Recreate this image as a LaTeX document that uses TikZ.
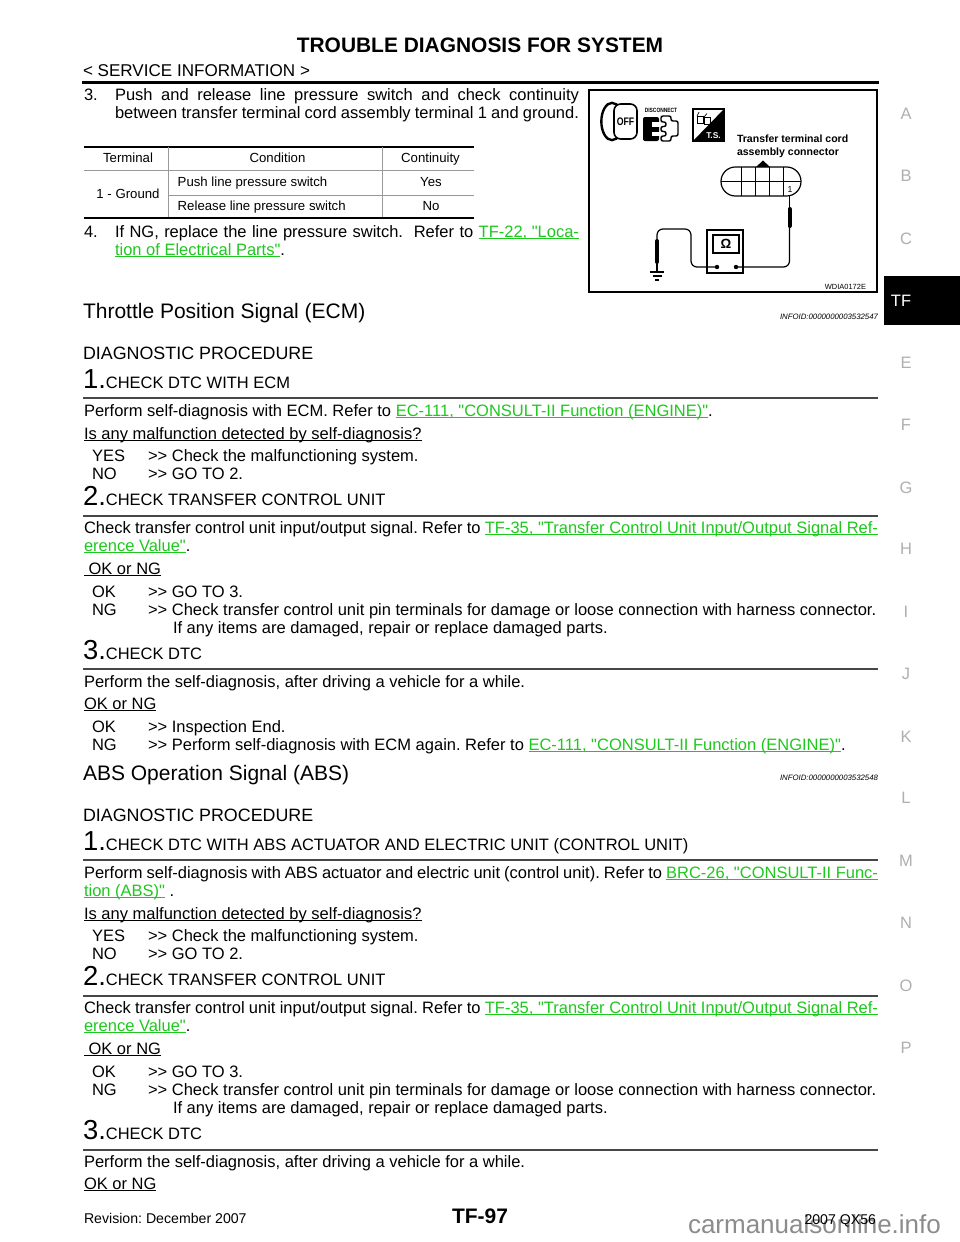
\documentclass[tikz,border=0pt]{standalone}
\usepackage{fontspec}
\setmainfont{Liberation Sans}
\newfontfamily\plainsans{Liberation Sans}
\frenchspacing
\definecolor{lnkgreen}{RGB}{30,200,30}
\definecolor{tabgray}{RGB}{175,175,175}
\newcommand\fBody{\plainsans\fontsize{12.375pt}{13.5pt}\selectfont}
\newcommand\fStep{\fontsize{20.6pt}{22pt}\selectfont}
\newcommand\fHead{\plainsans\fontsize{15.75pt}{17pt}\selectfont}
\newcommand\fDiag{\plainsans\fontsize{13.4pt}{15pt}\selectfont}
\newcommand\fTab{\plainsans\fontsize{9.9pt}{11pt}\selectfont}
\newcommand\fInfo{\plainsans\fontsize{5.85pt}{7pt}\selectfont\itshape}
\newcommand\fFoot{\plainsans\fontsize{10.6pt}{12pt}\selectfont}
\newcommand\fTitle{\plainsans\fontsize{15.7pt}{17pt}\selectfont\bfseries}
\newcommand\fSvc{\plainsans\fontsize{12.8pt}{14pt}\selectfont}
\newcommand\fPage{\plainsans\fontsize{15.75pt}{17pt}\selectfont\bfseries}
\newcommand\fWm{\plainsans\fontsize{19.5pt}{21pt}\selectfont}
\newcommand\fFig{\plainsans\fontsize{7.9pt}{9pt}\selectfont\bfseries}
\newcommand\fTiny{\plainsans\fontsize{5.6pt}{6pt}\selectfont}
\newsavebox\myulbox
\newcommand\myul[1]{\sbox\myulbox{#1}\leavevmode\rlap{\rule[-1.7pt]{\wd\myulbox}{0.65pt}}\usebox\myulbox}
\newcommand\lnk[1]{{\color{lnkgreen}\myul{#1}}}
\newcommand\twogt{>{}>}
\begin{document}
\frenchspacing
\begin{tikzpicture}[x=0.75pt,y=-0.75pt,
  txt/.style={anchor=base west,inner sep=0pt,outer sep=0pt,font=\fBody},
  ctxt/.style={anchor=base,inner sep=0pt,outer sep=0pt,font=\fBody},
  rtxt/.style={anchor=base east,inner sep=0pt,outer sep=0pt,font=\fBody},
  steprule/.style={line width=1.1pt,draw=black!72},
  sidetab/.style={anchor=base,inner sep=0pt,font=\fBody,text=tabgray},
  tabthick/.style={line width=1.5pt},
  tabthin/.style={line width=0.6pt,draw=black!40},
  wire/.style={line width=0.9pt,rounded corners=4.5pt},
  probe/.style={line width=3pt,line cap=round},
]
\useasboundingbox (0,0) rectangle (960,1242);
\fill[white] (0,0) rectangle (960,1242);

% ---------- header ----------
\node (title) [ctxt,font=\fTitle] at (480,52) {TROUBLE DIAGNOSIS FOR SYSTEM};
\node (svc) [txt,font=\fSvc] at (83,76) {< SERVICE INFORMATION >};
\draw[line width=2.2pt] (82,82.5) -- (879,82.5);

% ---------- side tabs ----------
\foreach \l/\yy in {A/114,B/176,C/239,E/363,F/425,G/488,H/549,I/612,J/674,K/737,L/798,M/861,N/923,O/986,P/1048}
  \node (side\l) [sidetab] at (906,\yy+5.5) {\l};
\fill (884,276) rectangle (960,325);
\node (sideTF) [sidetab,text=white] at (901,306) {TF};

% ---------- step 3 / 4 of previous procedure ----------
\node (p3num) [txt] at (84,100) {3.};
\node (p3a) [txt] at (115,100) {\makebox[348pt][s]{Push and release line pressure switch and check continuity}};
\node (p3b) [txt] at (115,118) {\makebox[348pt][s]{between transfer terminal cord assembly terminal 1 and ground.}};

\draw[tabthick] (84,146.7) -- (474,146.7);
\draw[tabthin] (84,170.7) -- (474,170.7);
\draw[tabthin] (168.3,146.7) -- (168.3,218.3);
\draw[tabthin] (382.7,146.7) -- (382.7,218.3);
\draw[tabthin] (168.3,195.5) -- (474,195.5);
\draw[tabthick] (84,218.3) -- (474,218.3);
\node (th1) [ctxt,font=\fTab] at (128,162.5) {Terminal};
\node (th2) [ctxt,font=\fTab] at (277.5,162.5) {Condition};
\node (th3) [ctxt,font=\fTab] at (430.5,162.5) {Continuity};
\node (tc1) [ctxt,font=\fTab] at (128,198.5) {1 - Ground};
\node (tc2) [txt,font=\fTab] at (177.7,186.3) {Push line pressure switch};
\node (tc3) [ctxt,font=\fTab] at (431,186.3) {Yes};
\node (tc4) [txt,font=\fTab] at (177.7,210.5) {Release line pressure switch};
\node (tc5) [ctxt,font=\fTab] at (431,210.5) {No};

\node (p4num) [txt] at (84,237) {4.};
\node (p4a) [txt] at (115,237) {\makebox[348pt][s]{If NG, replace the line pressure switch.\ \ Refer to \lnk{TF-22, "Loca-}}};
\node (p4b) [txt] at (115,255) {\lnk{tion of Electrical Parts"}.};

% ---------- figure ----------
\draw[line width=1.5pt] (589,90) rectangle (877,292);
% OFF key icon
\draw[line width=1.8pt,fill=white] (612,121.5) ellipse [x radius=8pt,y radius=14pt];
\draw[line width=1.2pt,fill=white,rounded corners=5pt] (614,104) rectangle (637,139);
\node (offt) [inner sep=0pt,font=\plainsans\fontsize{8.2pt}{9pt}\selectfont\bfseries,xscale=0.8] at (625.5,122) {OFF};
% disconnect icon
\node (disc) [inner sep=0pt,font=\plainsans\fontsize{4.6pt}{5pt}\selectfont\bfseries,xscale=0.8] at (661,110.5) {DISCONNECT};
\fill[rounded corners=1.5pt] (643,117) rectangle (659,141);
\fill[white] (652,122) rectangle (659.5,126.5);
\fill[white] (652,131.5) rectangle (659.5,136);
\draw[line width=1.1pt,rounded corners=1.5pt] (661,116) -- (671,116) -- (671,121) -- (678,121) -- (678,136) -- (671,136) -- (671,141) -- (661,141) -- (661,136) -- (666,136) -- (666,131.5) -- (661,131.5) -- (661,126.5) -- (666,126.5) -- (666,122) -- (661,122) -- cycle;
% T.S. icon
\draw[line width=1pt] (693,109) rectangle (724,141);
\fill (693,141) -- (724,109) -- (724,141) -- cycle;
\draw[line width=0.5pt] (697,116) rectangle (703,123) (704,117) rectangle (710,124);
\draw[line width=0.5pt] (697,116) -- (699,112) (704,117) -- (707,113.5);
\node (tst) [anchor=base,inner sep=0pt,text=white,font=\plainsans\fontsize{6.3pt}{7pt}\selectfont\bfseries] at (713.5,138.5) {T.S.};
% label
\node (lab1) [txt,font=\fFig] at (737,142) {Transfer terminal cord};
\node (lab2) [txt,font=\fFig] at (737,155.5) {assembly connector};
% connector
\draw[line width=0.9pt,rounded corners=10.8pt] (721,167) rectangle (801,196);
\draw[line width=0.7pt] (721,181.5) -- (801,181.5);
\foreach \xx in {741,755,769,783} \draw[line width=0.7pt] (\xx,167) -- (\xx,196);
\fill (756,167) -- (763,160.5) -- (770,167) -- cycle;
\node (pin1) [ctxt,font=\plainsans\fontsize{6.5pt}{7pt}\selectfont] at (790,192) {1};
% meter
\node (meter) [draw,line width=0.8pt,minimum width=27pt,minimum height=32.25pt,inner sep=0pt] at (725,251.5) {};
\node (disp) [draw,line width=0.8pt,minimum width=19.5pt,minimum height=13.5pt,inner sep=0pt,font=\plainsans\fontsize{10pt}{10pt}\selectfont\bfseries] at (726,244) {Ω};
\fill (717,267) circle (2.2);
\fill (736,267) circle (2.2);
\coordinate (tL) at (717,267);
\coordinate (tR) at (736,267);
\coordinate (pinTop) at (789.5,196);
\coordinate (gnd) at (657,271);
% right probe
\draw[line width=0.8pt] (pinTop) -- (789.5,208);
\draw[probe] (789.5,209) -- (789.5,226);
\draw[wire] (789.5,226) -- (789.5,267) -- (tR);
% left probe
\draw[wire] (tL) -- (691,267) -- (691,229) -- (657,229) -- (657,240);
\draw[probe] (657,241) -- (657,262);
\draw[line width=0.8pt] (657,262) -- (gnd);
\draw[line width=0.9pt] (650,272) -- (664,272) (652.5,276) -- (661.5,276) (655,280) -- (659,280);
\node (figid) [rtxt,font=\fTiny] at (866,289) {WDIA0172E};

% ---------- Throttle Position Signal ----------
\node (h1) [txt,font=\fHead] at (83,318.5) {Throttle Position Signal (ECM)};
\node (info1) [rtxt,font=\fInfo] at (878,319) {INFOID:0000000003532547};
\node (dp1) [txt,font=\fDiag] at (83,359.5) {DIAGNOSTIC PROCEDURE};
\node (a1) [txt] at (83,388) {{\fStep 1.}CHECK DTC WITH ECM};
\draw[steprule] (83,398) -- (878,398);
\node (a1t) [txt] at (84,416) {Perform self-diagnosis with ECM. Refer to \lnk{EC-111, "CONSULT-II Function (ENGINE)"}.};
\node (a1q) [txt] at (84,439) {\myul{Is any malfunction detected by self-diagnosis?}};
\node (a1y) [txt] at (92,461) {YES};
\node (a1yt) [txt] at (148,461) {\twogt{} Check the malfunctioning system.};
\node (a1n) [txt] at (92,479) {NO};
\node (a1nt) [txt] at (148,479) {\twogt{} GO TO 2.};

\node (a2) [txt] at (83,505) {{\fStep 2.}CHECK TRANSFER CONTROL UNIT};
\draw[steprule] (83,516) -- (878,516);
\node (a2t) [txt] at (84,533) {\makebox[595.5pt][s]{Check transfer control unit input/output signal. Refer to \lnk{TF-35, "Transfer Control Unit Input/Output Signal Ref-}}};
\node (a2t2) [txt] at (84,551) {\lnk{erence Value"}.};
\node (a2q) [txt] at (84,574) {\myul{\ OK or NG}};
\node (a2o) [txt] at (92,597) {OK};
\node (a2ot) [txt] at (148,597) {\twogt{} GO TO 3.};
\node (a2n) [txt] at (92,615) {NG};
\node (a2nt) [txt] at (148,615) {\twogt{} Check transfer control unit pin terminals for damage or loose connection with harness connector.};
\node (a2nt2) [txt] at (173,633) {If any items are damaged, repair or replace damaged parts.};

\node (a3) [txt] at (83,659) {{\fStep 3.}CHECK DTC};
\draw[steprule] (83,669) -- (878,669);
\node (a3t) [txt] at (84,687) {Perform the self-diagnosis, after driving a vehicle for a while.};
\node (a3q) [txt] at (84,709) {\myul{OK or NG}};
\node (a3o) [txt] at (92,732) {OK};
\node (a3ot) [txt] at (148,732) {\twogt{} Inspection End.};
\node (a3n) [txt] at (92,750) {NG};
\node (a3nt) [txt] at (148,750) {\twogt{} Perform self-diagnosis with ECM again. Refer to \lnk{EC-111, "CONSULT-II Function (ENGINE)"}.};

% ---------- ABS Operation Signal ----------
\node (h2) [txt,font=\fHead] at (83,780.5) {ABS Operation Signal (ABS)};
\node (info2) [rtxt,font=\fInfo] at (878,780) {INFOID:0000000003532548};
\node (dp2) [txt,font=\fDiag] at (83,821.5) {DIAGNOSTIC PROCEDURE};
\node (b1) [txt] at (83,850) {{\fStep 1.}CHECK DTC WITH ABS ACTUATOR AND ELECTRIC UNIT (CONTROL UNIT)};
\draw[steprule] (83,860) -- (878,860);
\node (b1t) [txt] at (84,878) {\makebox[595.5pt][s]{Perform self-diagnosis with ABS actuator and electric unit (control unit). Refer to \lnk{BRC-26, "CONSULT-II Func-}}};
\node (b1t2) [txt] at (84,896) {\lnk{tion (ABS)"} .};
\node (b1q) [txt] at (84,919) {\myul{Is any malfunction detected by self-diagnosis?}};
\node (b1y) [txt] at (92,941) {YES};
\node (b1yt) [txt] at (148,941) {\twogt{} Check the malfunctioning system.};
\node (b1n) [txt] at (92,959) {NO};
\node (b1nt) [txt] at (148,959) {\twogt{} GO TO 2.};

\node (b2) [txt] at (83,985) {{\fStep 2.}CHECK TRANSFER CONTROL UNIT};
\draw[steprule] (83,996) -- (878,996);
\node (b2t) [txt] at (84,1013) {\makebox[595.5pt][s]{Check transfer control unit input/output signal. Refer to \lnk{TF-35, "Transfer Control Unit Input/Output Signal Ref-}}};
\node (b2t2) [txt] at (84,1031) {\lnk{erence Value"}.};
\node (b2q) [txt] at (84,1054) {\myul{\ OK or NG}};
\node (b2o) [txt] at (92,1077) {OK};
\node (b2ot) [txt] at (148,1077) {\twogt{} GO TO 3.};
\node (b2n) [txt] at (92,1095) {NG};
\node (b2nt) [txt] at (148,1095) {\twogt{} Check transfer control unit pin terminals for damage or loose connection with harness connector.};
\node (b2nt2) [txt] at (173,1113) {If any items are damaged, repair or replace damaged parts.};

\node (b3) [txt] at (83,1139) {{\fStep 3.}CHECK DTC};
\draw[steprule] (83,1150) -- (878,1150);
\node (b3t) [txt] at (84,1167) {Perform the self-diagnosis, after driving a vehicle for a while.};
\node (b3q) [txt] at (84,1189) {\myul{OK or NG}};

% ---------- footer ----------
\node (wm) [txt,font=\fWm,text=black!45] at (688,1233) {carmanualsonline.info};
\node (rev) [txt,font=\fFoot] at (84,1223) {Revision: December 2007};
\node (pg) [ctxt,font=\fPage] at (480,1223.5) {TF-97};
\node (model) [rtxt,font=\fFoot] at (876,1224) {2007 QX56};
\end{tikzpicture}
\end{document}
